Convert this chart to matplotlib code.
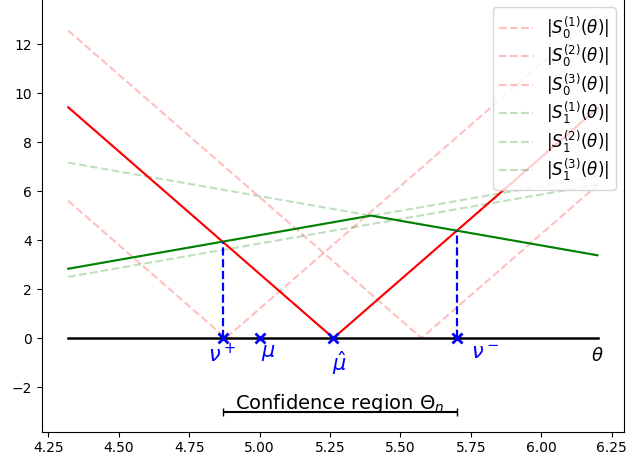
import matplotlib
matplotlib.use("Agg")
from matplotlib import pyplot as plt

# vertices (theta, value)
S0_THETA = [[4.32, 4.88, 6.2], [4.32, 5.262, 6.2], [4.32, 5.575, 6.2]]
S0_VALUES = [[5.6, 0.0, 13.2], [9.42, 0.0, 9.38], [12.55, 0.0, 6.25]]
S1_THETA = [[4.32, 6.2], [4.32, 6.2], [4.32, 6.2]]
S1_VALUES = [[7.16, 3.38], [2.5, 6.26], [2.83, 6.6]]

S0_MAIN_THETA = [4.32, 5.262, 6.2]
S0_MAIN_VALUES = [9.42, 0.0, 9.38]
S1_MAIN_THETA = [4.32, 5.395, 6.2]
S1_MAIN_VALUES = [2.83, 5.0, 3.38]

NU_PLUS = 4.87
NU_MINUS = 5.70
MU = 5.0
MU_HAT = 5.262
NU_PLUS_HEIGHT = 3.93
NU_MINUS_HEIGHT = 4.38
CI_LEVEL = -3.0

fig = plt.figure(figsize=(6.28, 4.65), dpi=100)
ax = fig.add_axes([0.0664, 0.0716, 0.9272, 0.9306])

for i in range(3):
    ax.plot(S0_THETA[i], S0_VALUES[i], '--', color='red', alpha=0.25,
            label=r'$|S_0^{(%d)}(\theta)|$' % (i + 1))
for i in range(3):
    ax.plot(S1_THETA[i], S1_VALUES[i], '--', color='green', alpha=0.25,
            label=r'$|S_1^{(%d)}(\theta)|$' % (i + 1))

ax.plot(S0_MAIN_THETA, S0_MAIN_VALUES, color='red', lw=1.5)
ax.plot(S1_MAIN_THETA, S1_MAIN_VALUES, color='green', lw=1.5)

# theta axis
ax.plot([S0_MAIN_THETA[0], S0_MAIN_THETA[-1]], [0, 0], color='black', lw=1.8)

ax.plot([NU_PLUS, NU_PLUS], [0, NU_PLUS_HEIGHT], '--', color='blue', lw=1.6)
ax.plot([NU_MINUS, NU_MINUS], [0, NU_MINUS_HEIGHT], '--', color='blue', lw=1.6)
ax.plot([NU_PLUS, MU, MU_HAT, NU_MINUS], [0, 0, 0, 0], 'x', color='blue',
        markersize=7, mew=2)

fs = 15
ax.text(NU_PLUS - 0.005, -0.2, r'$\nu^+$', color='blue', fontsize=fs, ha='center', va='top')
ax.text(MU + 0.005, -0.2, r'$\mu$', color='blue', fontsize=fs, ha='left', va='top')
ax.text(MU_HAT - 0.005, -0.45, r'$\hat{\mu}$', color='blue', fontsize=fs, ha='left', va='top')
ax.text(NU_MINUS + 0.05, -0.2, r'$\nu^-$', color='blue', fontsize=fs, ha='left', va='top')
ax.text(6.2, -0.35, r'$\theta$', color='black', fontsize=13, ha='center', va='top')

mid = (NU_PLUS + NU_MINUS) / 2
ax.errorbar([mid], [CI_LEVEL], xerr=[(NU_MINUS - NU_PLUS) / 2], color='black',
            capsize=3, lw=1.5)
ax.text(mid, CI_LEVEL - 0.12, r'Confidence region $\Theta_n$', fontsize=14,
        ha='center', va='bottom')

ax.set_xlim(4.226, 6.294)
ax.set_ylim(-3.82, 13.84)
ax.legend(loc='upper right', fontsize=12, labelspacing=0.1)

fig.savefig("out.png")
